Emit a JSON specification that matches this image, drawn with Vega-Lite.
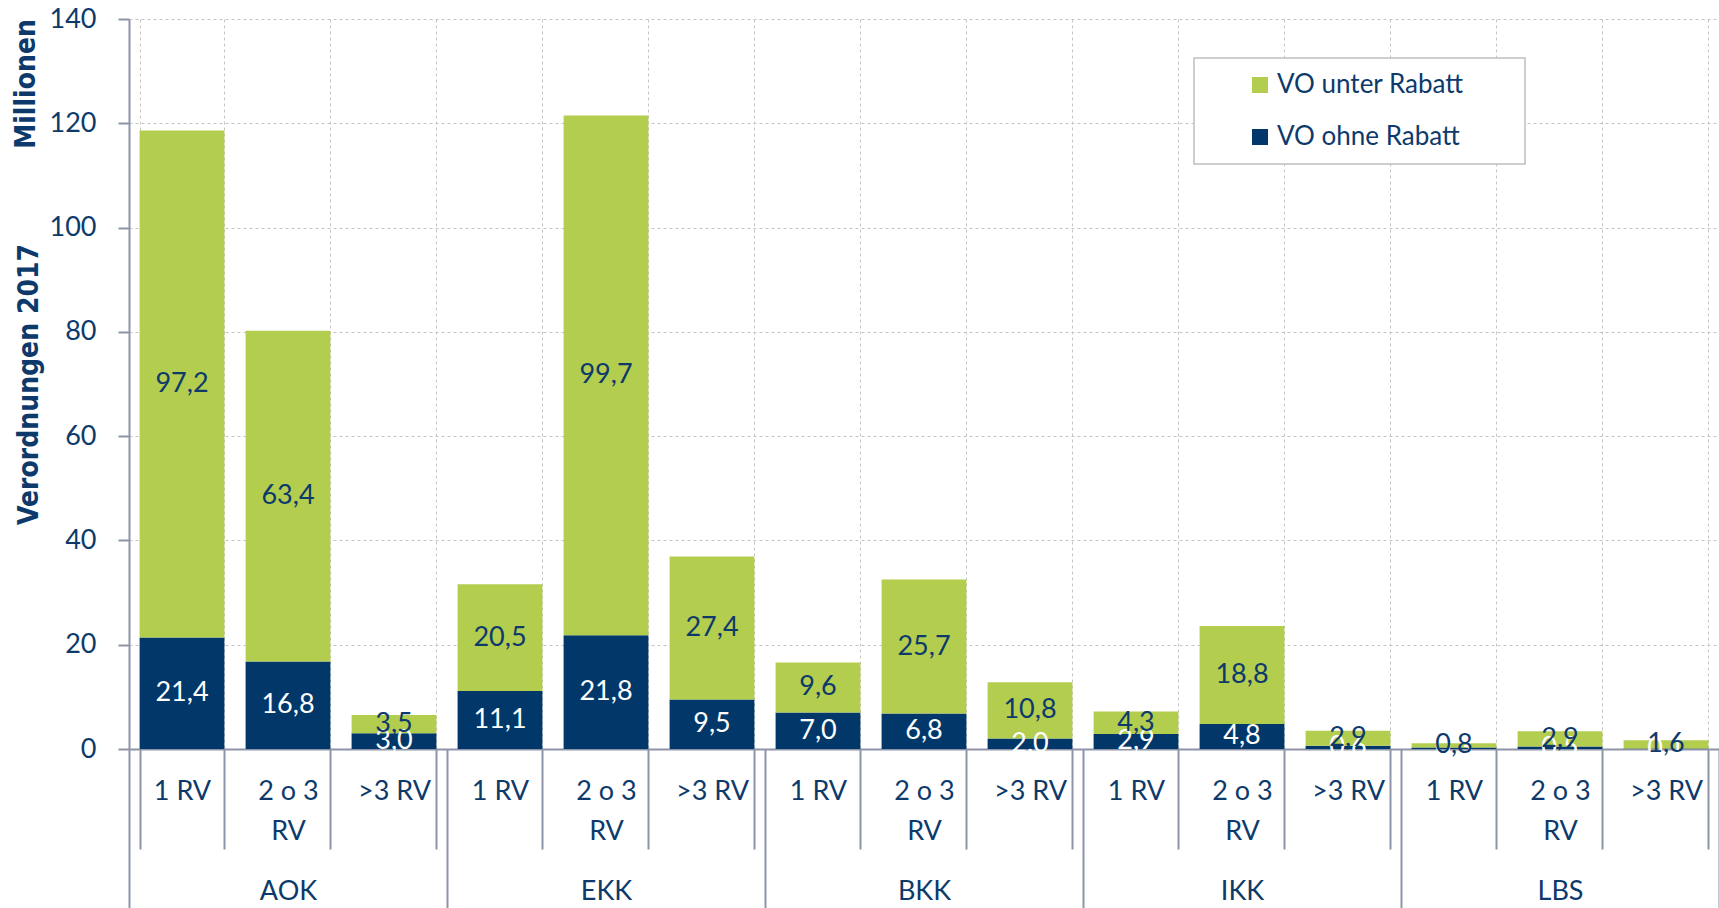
{
  "$schema": "https://vega.github.io/schema/vega-lite/v6.json",
  "width": 1590,
  "height": 730,
  "autosize": {"type": "none"},
  "padding": {"left": 129, "top": 19, "right": 0, "bottom": 159},
  "background": "white",
  "title": {"text": "Millionen", "orient": "left", "anchor": "end", "frame": "group", "font": "DejaVu Sans Condensed, Roboto, sans-serif", "fontWeight": "bold", "fontSize": 28, "color": "#0d3a6b", "offset": -26},
  "data": {"values": [
    {"kasse": "AOK", "rv": "1 RV", "key": "AOK|1 RV", "typ": "VO ohne Rabatt", "wert": 21.4},
    {"kasse": "AOK", "rv": "1 RV", "key": "AOK|1 RV", "typ": "VO unter Rabatt", "wert": 97.2},
    {"kasse": "AOK", "rv": "2 o 3 RV", "key": "AOK|2 o 3|RV", "typ": "VO ohne Rabatt", "wert": 16.8},
    {"kasse": "AOK", "rv": "2 o 3 RV", "key": "AOK|2 o 3|RV", "typ": "VO unter Rabatt", "wert": 63.4},
    {"kasse": "AOK", "rv": ">3 RV", "key": "AOK|>3 RV", "typ": "VO ohne Rabatt", "wert": 3.0},
    {"kasse": "AOK", "rv": ">3 RV", "key": "AOK|>3 RV", "typ": "VO unter Rabatt", "wert": 3.5},
    {"kasse": "EKK", "rv": "1 RV", "key": "EKK|1 RV", "typ": "VO ohne Rabatt", "wert": 11.1},
    {"kasse": "EKK", "rv": "1 RV", "key": "EKK|1 RV", "typ": "VO unter Rabatt", "wert": 20.5},
    {"kasse": "EKK", "rv": "2 o 3 RV", "key": "EKK|2 o 3|RV", "typ": "VO ohne Rabatt", "wert": 21.8},
    {"kasse": "EKK", "rv": "2 o 3 RV", "key": "EKK|2 o 3|RV", "typ": "VO unter Rabatt", "wert": 99.7},
    {"kasse": "EKK", "rv": ">3 RV", "key": "EKK|>3 RV", "typ": "VO ohne Rabatt", "wert": 9.5},
    {"kasse": "EKK", "rv": ">3 RV", "key": "EKK|>3 RV", "typ": "VO unter Rabatt", "wert": 27.4},
    {"kasse": "BKK", "rv": "1 RV", "key": "BKK|1 RV", "typ": "VO ohne Rabatt", "wert": 7.0},
    {"kasse": "BKK", "rv": "1 RV", "key": "BKK|1 RV", "typ": "VO unter Rabatt", "wert": 9.6},
    {"kasse": "BKK", "rv": "2 o 3 RV", "key": "BKK|2 o 3|RV", "typ": "VO ohne Rabatt", "wert": 6.8},
    {"kasse": "BKK", "rv": "2 o 3 RV", "key": "BKK|2 o 3|RV", "typ": "VO unter Rabatt", "wert": 25.7},
    {"kasse": "BKK", "rv": ">3 RV", "key": "BKK|>3 RV", "typ": "VO ohne Rabatt", "wert": 2.0},
    {"kasse": "BKK", "rv": ">3 RV", "key": "BKK|>3 RV", "typ": "VO unter Rabatt", "wert": 10.8},
    {"kasse": "IKK", "rv": "1 RV", "key": "IKK|1 RV", "typ": "VO ohne Rabatt", "wert": 2.9},
    {"kasse": "IKK", "rv": "1 RV", "key": "IKK|1 RV", "typ": "VO unter Rabatt", "wert": 4.3},
    {"kasse": "IKK", "rv": "2 o 3 RV", "key": "IKK|2 o 3|RV", "typ": "VO ohne Rabatt", "wert": 4.8},
    {"kasse": "IKK", "rv": "2 o 3 RV", "key": "IKK|2 o 3|RV", "typ": "VO unter Rabatt", "wert": 18.8},
    {"kasse": "IKK", "rv": ">3 RV", "key": "IKK|>3 RV", "typ": "VO ohne Rabatt", "wert": 0.6},
    {"kasse": "IKK", "rv": ">3 RV", "key": "IKK|>3 RV", "typ": "VO unter Rabatt", "wert": 2.9},
    {"kasse": "LBS", "rv": "1 RV", "key": "LBS|1 RV", "typ": "VO ohne Rabatt", "wert": 0.3},
    {"kasse": "LBS", "rv": "1 RV", "key": "LBS|1 RV", "typ": "VO unter Rabatt", "wert": 0.8},
    {"kasse": "LBS", "rv": "2 o 3 RV", "key": "LBS|2 o 3|RV", "typ": "VO ohne Rabatt", "wert": 0.5},
    {"kasse": "LBS", "rv": "2 o 3 RV", "key": "LBS|2 o 3|RV", "typ": "VO unter Rabatt", "wert": 2.9},
    {"kasse": "LBS", "rv": ">3 RV", "key": "LBS|>3 RV", "typ": "VO ohne Rabatt", "wert": 0.1},
    {"kasse": "LBS", "rv": ">3 RV", "key": "LBS|>3 RV", "typ": "VO unter Rabatt", "wert": 1.6}
  ]},
  "config": {
    "view": {"stroke": null},
    "locale": {"number": {"decimal": ",", "thousands": ".", "grouping": [3], "currency": ["", " €"]}},
    "legend": {"strokeWidth": 1.5}
  },
  "layer": [
    {
      "layer": [
        {
          "mark": {"type": "bar"},
          "encoding": {
            "x": {
              "field": "key", "type": "nominal", "sort": null,
              "scale": {"paddingInner": 0.2, "paddingOuter": 0.1},
              "axis": {
                "orient": "bottom",
                "title": null, "labelExpr": "slice(split(datum.value, '|'), 1)", "labelAngle": 0,
                "labelOverlap": false, "labelBound": false,
                "tickBand": "extent", "tickSize": 100, "labelPadding": -71, "labelLineHeight": 40,
                "labelBaseline": "top",
                "grid": true, "gridDash": [3, 3], "gridColor": "#c4c4c4", "gridWidth": 1,
                "domainColor": "#8d94a8", "domainWidth": 2, "tickColor": "#8d94a8", "tickWidth": 2,
                "labelFont": "Lato", "labelFontSize": 27, "labelColor": "#0d3a6b"
              }
            },
            "y": {
              "field": "wert", "type": "quantitative", "aggregate": "sum",
              "scale": {"domain": [0, 140], "nice": false},
              "axis": {
                "title": "Verordnungen 2017", "titleFont": "DejaVu Sans Condensed, Roboto, sans-serif", "titleFontWeight": "bold",
                "titleFontSize": 28, "titleColor": "#0d3a6b", "titleX": -92, "titleBaseline": "alphabetic",
                "values": [0, 20, 40, 60, 80, 100, 120, 140], "format": "d",
                "grid": true, "gridDash": [3, 3], "gridColor": "#c4c4c4", "gridWidth": 1,
                "domainColor": "#8d94a8", "domainWidth": 2, "tickColor": "#8d94a8", "tickWidth": 2, "tickSize": 11,
                "labelPadding": 22, "labelFont": "Lato", "labelFontSize": 27, "labelColor": "#0d3a6b"
              }
            },
            "color": {
              "field": "typ", "type": "nominal",
              "scale": {"domain": ["VO unter Rabatt", "VO ohne Rabatt"], "range": ["#b3cd4f", "#023869"]},
              "legend": {
                "title": null, "orient": "none", "legendX": 1065, "legendY": 39, "padding": 14,
                "strokeColor": "#bfbfbf", "fillColor": "white",
                "symbolType": "square", "symbolSize": 256, "symbolStrokeWidth": 0, "symbolOffset": 39,
                "labelOffset": 4, "labelFont": "Lato", "labelFontSize": 26, "labelColor": "#0d3a6b",
                "rowPadding": 26, "labelLimit": 600,
                "labelExpr": "datum.label + '\u00a0\u00a0\u00a0\u00a0\u00a0\u00a0\u00a0\u200b'"
              }
            },
            "order": {"field": "typ", "type": "nominal", "sort": "ascending"}
          }
        },
        {
          "transform": [
            {"stack": "wert", "groupby": ["key"], "sort": [{"field": "typ", "order": "ascending"}], "as": ["y0", "y1"]},
            {"calculate": "(datum.y0 + datum.y1) / 2", "as": "mid"}
          ],
          "mark": {"type": "text", "font": "Lato", "fontSize": 27, "baseline": "middle", "align": "center"},
          "encoding": {
            "x": {"field": "key", "type": "nominal", "sort": null},
            "y": {"field": "mid", "type": "quantitative"},
            "text": {"field": "wert", "type": "quantitative", "format": ".1f"},
            "color": {"condition": {"test": "datum.typ == 'VO ohne Rabatt'", "value": "white"}, "value": "#0d3a6b"}
          }
        }
      ]
    },
    {
      "mark": {"type": "point", "opacity": 0},
      "encoding": {
        "x": {
          "field": "kasse", "type": "nominal", "sort": null,
          "scale": {"paddingInner": 0, "paddingOuter": 0},
          "axis": {
            "orient": "bottom",
            "title": null, "labelAngle": 0, "tickBand": "extent", "tickSize": 170, "labelPadding": -41,
            "labelBaseline": "top", "domain": false, "grid": false,
            "tickColor": "#8d94a8", "tickWidth": 2,
            "labelFont": "Lato", "labelFontSize": 27, "labelColor": "#0d3a6b"
          }
        }
      }
    }
  ],
  "resolve": {"scale": {"x": "independent"}, "axis": {"x": "independent"}}
}
